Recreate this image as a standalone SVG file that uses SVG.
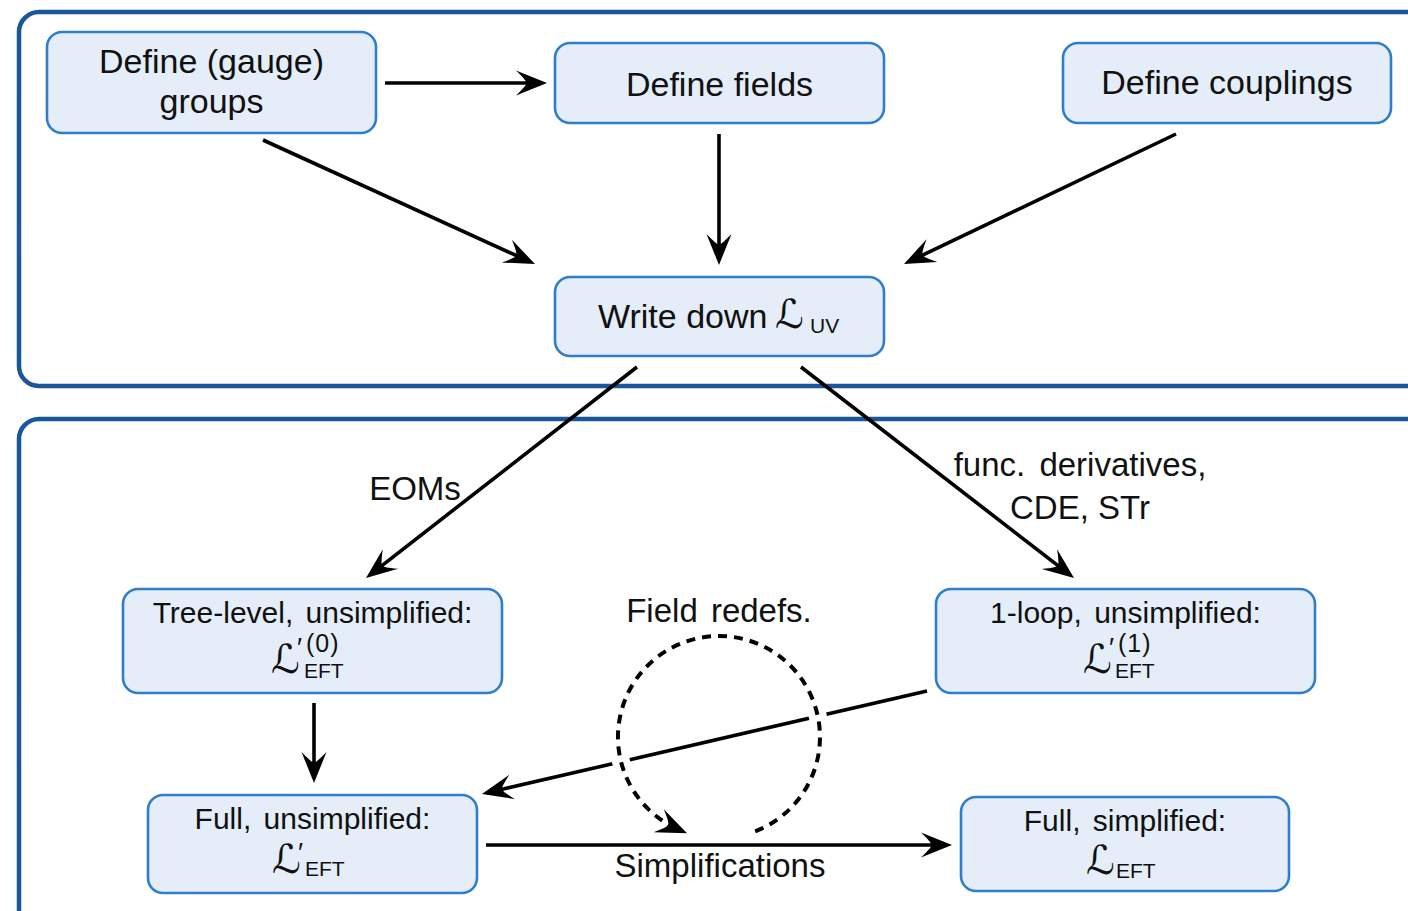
<svg xmlns="http://www.w3.org/2000/svg" width="1408" height="911" viewBox="0 0 1408 911">
  <style>
    .frame { fill: none; stroke: #1b5699; stroke-width: 4.5; }
    .box { fill: #e4edf8; stroke: #2f7dcb; stroke-width: 2.6; }
    .t { font-family: "Liberation Sans", Arial, sans-serif; fill: #111; }
    .big { font-size: 34px; }
    .mid { font-size: 30px; word-spacing: 4px; }
    .lbl { font-size: 33px; }
    .cal { font-family: "DejaVu Serif", "DejaVu Sans", "Noto Sans CJK JP", serif; font-size: 40px; fill: #111; }
    .sub { font-family: "Liberation Sans", Arial, sans-serif; font-size: 21px; fill: #111; }
    .sup { font-family: "Liberation Sans", Arial, sans-serif; font-size: 25px; letter-spacing: 1px; fill: #111; }
    .prime { font-family: "Liberation Sans", "DejaVu Sans", sans-serif; font-size: 27px; fill: #111; }
    .edge { fill: none; stroke: #000; stroke-width: 3.6; }
    .dash { fill: none; stroke: #000; stroke-width: 4; stroke-dasharray: 9 7; }
    .mask { fill: none; stroke: #fff; stroke-width: 18; }
  </style>
  <defs>
    <marker id="head" markerUnits="userSpaceOnUse" viewBox="-24 -14 36 28" refX="0" refY="0" markerWidth="36" markerHeight="28" orient="auto">
      <path d="M10,0 L-21,-12.5 Q-9,-1 -11,0 Q-9,1 -21,12.5 Z" fill="#000"/>
    </marker>
  </defs>

  <rect width="1408" height="911" fill="#fff"/>

  <!-- section frames (open to the right / bottom edge) -->
  <g id="frames">
    <rect class="frame" x="19" y="12" width="1420" height="374" rx="20"/>
    <rect class="frame" x="19" y="419" width="1420" height="530" rx="20"/>
  </g>

  <!-- connectors -->
  <g id="connectors">
    <line class="edge" x1="385" y1="83" x2="537" y2="83" marker-end="url(#head)"/>
    <line class="edge" x1="263" y1="140" x2="525.9" y2="259.9" marker-end="url(#head)"/>
    <line class="edge" x1="719" y1="134" x2="719" y2="255" marker-end="url(#head)"/>
    <line class="edge" x1="1176" y1="134" x2="913" y2="259.7" marker-end="url(#head)"/>
    <line class="edge" x1="637" y1="367" x2="373.9" y2="571.9" marker-end="url(#head)"/>
    <line class="edge" x1="801" y1="367" x2="1066.1" y2="571.9" marker-end="url(#head)"/>
    <line class="edge" x1="314" y1="703" x2="314" y2="773" marker-end="url(#head)"/>
    <line class="edge" x1="927" y1="691" x2="491.7" y2="791.7" marker-end="url(#head)"/>
    <line class="edge" x1="486" y1="845" x2="942" y2="845" marker-end="url(#head)"/>
    <!-- field-redefinition loop: white underlay then dashed arc -->
    <path class="mask" d="M755.2,831.3 A101,101 0 1 0 677.9,829.3"/>
    <path class="dash" d="M755.2,831.3 A101,101 0 1 0 677.9,829.3" marker-end="url(#head)"/>
    <text class="t lbl" x="415" y="500" text-anchor="middle">EOMs</text>
    <text class="t lbl" x="1080" y="476" text-anchor="middle" word-spacing="5">func. derivatives,</text>
    <text class="t lbl" x="1080" y="519" text-anchor="middle">CDE, STr</text>
    <text class="t lbl" x="719" y="622" text-anchor="middle" word-spacing="4">Field redefs.</text>
    <text class="t lbl" x="720" y="877" text-anchor="middle">Simplifications</text>
  </g>

  <g id="n-groups">
    <rect class="box" x="47" y="32" width="329" height="101" rx="15"/>
    <text class="t big" x="211.5" y="73" text-anchor="middle">Define (gauge)</text>
    <text class="t big" x="211.5" y="113" text-anchor="middle">groups</text>
  </g>

  <g id="n-fields">
    <rect class="box" x="555" y="43" width="329" height="80" rx="15"/>
    <text class="t big" x="719.5" y="96" text-anchor="middle">Define fields</text>
  </g>

  <g id="n-couplings">
    <rect class="box" x="1063" y="43" width="328" height="80" rx="15"/>
    <text class="t big" x="1227" y="94" text-anchor="middle">Define couplings</text>
  </g>

  <g id="n-uv">
    <rect class="box" x="555" y="277" width="329" height="79" rx="15"/>
    <text class="t big" x="598" y="328">Write down</text>
    <text class="cal" x="775" y="328" font-size="42">ℒ</text>
    <text class="sub" x="810" y="333" font-size="23">UV</text>
  </g>

  <g id="n-tree">
    <rect class="box" x="123" y="589" width="379" height="104" rx="15"/>
    <text class="t mid" x="312.5" y="623" text-anchor="middle">Tree-level, unsimplified:</text>
    <text class="cal" x="271" y="673">ℒ</text>
    <text class="prime" x="297" y="657">′</text>
    <text class="sup" x="306" y="652">(0)</text>
    <text class="sub" x="304" y="678">EFT</text>
  </g>

  <g id="n-loop">
    <rect class="box" x="936" y="589" width="379" height="104" rx="15"/>
    <text class="t mid" x="1125.5" y="623" text-anchor="middle">1-loop, unsimplified:</text>
    <text class="cal" x="1083" y="673">ℒ</text>
    <text class="prime" x="1109" y="657">′</text>
    <text class="sup" x="1118" y="652">(1)</text>
    <text class="sub" x="1115" y="678">EFT</text>
  </g>

  <g id="n-full">
    <rect class="box" x="148" y="795" width="329" height="98" rx="15"/>
    <text class="t mid" x="312.5" y="829" text-anchor="middle">Full, unsimplified:</text>
    <text class="cal" x="272" y="873">ℒ</text>
    <text class="prime" x="298" y="862">′</text>
    <text class="sub" x="305" y="876">EFT</text>
  </g>

  <g id="n-simplified">
    <rect class="box" x="961" y="797" width="328" height="94" rx="15"/>
    <text class="t mid" x="1125" y="831" text-anchor="middle">Full, simplified:</text>
    <text class="cal" x="1086" y="874">ℒ</text>
    <text class="sub" x="1116" y="878">EFT</text>
  </g>
</svg>
